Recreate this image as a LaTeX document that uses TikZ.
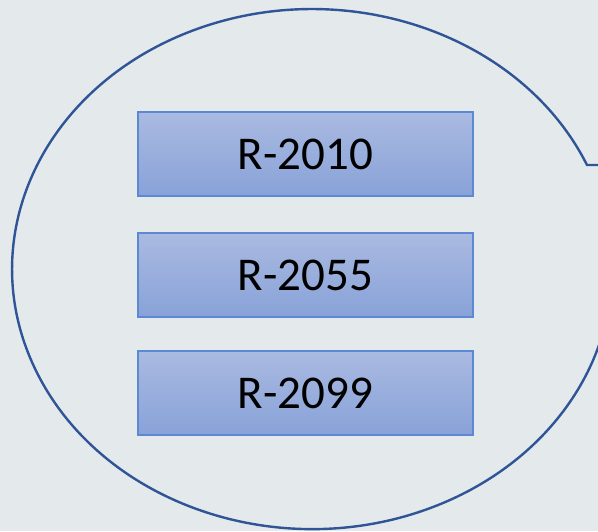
\documentclass[tikz,border=0pt]{standalone}
\usepackage{fontspec}
\setmainfont{Carlito}
\definecolor{bg}{RGB}{228,233,236}
\definecolor{callblue}{RGB}{47,85,151}
\definecolor{boxtop}{RGB}{170,186,225}
\definecolor{boxbot}{RGB}{136,162,216}
\definecolor{boxline}{RGB}{92,136,212}
\tikzset{
  rbox/.style={draw=boxline, line width=1.3pt, top color=boxtop, bottom color=boxbot,
    minimum width=335pt, minimum height=84pt, inner sep=0pt,
    font=\fontsize{47}{50}\selectfont, text=black},
  callline/.style={draw=callblue, line width=2.4pt, line join=miter}
}
\begin{document}
\begin{tikzpicture}[x=1pt,y=1pt]
\useasboundingbox (0,0) rectangle (598,531);
\fill[bg] (0,0) rectangle (598,531);
\begin{scope}
  \clip (0,0) rectangle (598,531);
  \coordinate (base1) at (587,366);
  \coordinate (tip) at (720,366);
  \draw[callline] (base1) arc[start angle=23.6, end angle=350, x radius=300, y radius=260] -- (tip) -- cycle;
\end{scope}
\node[rbox] (r1) at (305.5,377) {\raisebox{-1.5pt}{R-2010}};
\node[rbox] (r2) at (305.5,256) {\raisebox{-1.5pt}{R-2055}};
\node[rbox] (r3) at (305.5,138) {\raisebox{-1.5pt}{R-2099}};
\end{tikzpicture}
\end{document}
